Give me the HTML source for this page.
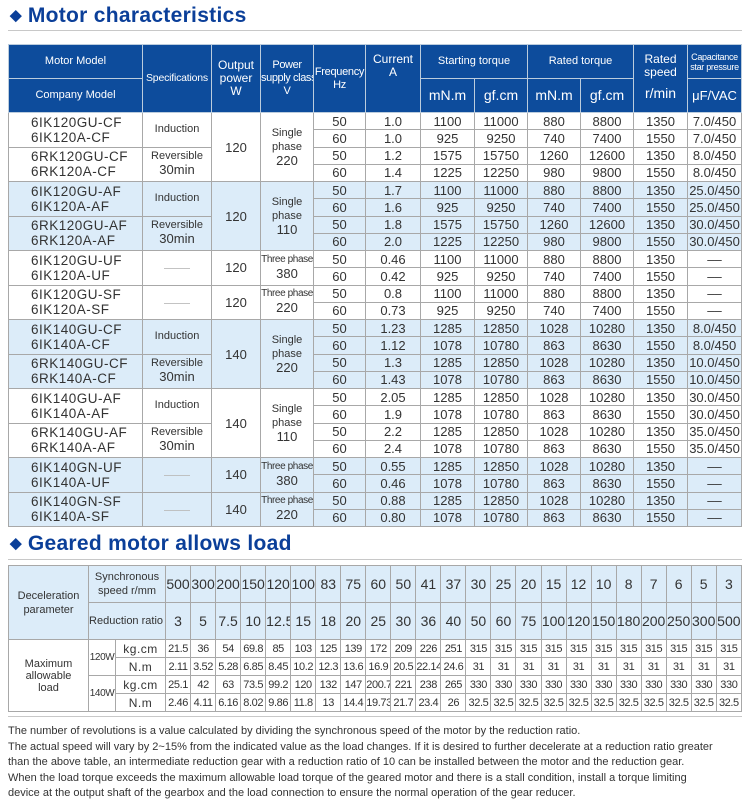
<!DOCTYPE html>
<html><head><meta charset="utf-8">
<style>
*{margin:0;padding:0;box-sizing:border-box}
body{width:750px;height:811px;background:#fff;font-family:"Liberation Sans",Arial,sans-serif;position:relative;overflow:hidden;color:#333}
.title{position:absolute;left:10px;font-weight:bold;font-size:21px;color:#0b3f99;letter-spacing:0.3px}
.title .d{font-size:15px;vertical-align:2px;margin-right:6px}
.rule{position:absolute;left:8px;width:734px;height:1px;background:#c8c8c8}
table{position:absolute;border-collapse:collapse;table-layout:fixed}
td{border:1px solid #a8a8a8;text-align:center;vertical-align:middle;padding:0;overflow:hidden;white-space:nowrap}
#t1{left:8px;top:44px;width:733px}
#t1 th{background:#0d4c9c;color:#fff;font-weight:normal;font-size:11px;border:1px solid #bcd;line-height:13px;white-space:nowrap;overflow:hidden}
#t1 thead tr{height:34px}
#t1 tbody tr{height:17.25px}
#t1 td{font-size:13px;color:#333;line-height:15px}
#t1 td.m{text-align:left;padding-left:22px;font-size:13.5px;letter-spacing:0.5px;line-height:15px}
#t1 td.s{font-size:11px;line-height:13px}
#t1 td.s2{font-size:11px;line-height:14px}
#t1 td.tp{font-size:10px;line-height:14px;letter-spacing:-0.4px}
.b td{background:#dcecf9}
#t2{left:8px;top:565px;width:734px}
#t2 td{font-size:14px}
#t2 .h td{background:#dcecf9;height:37px}
#t2 .r td{height:18px;font-size:11px;letter-spacing:-0.4px}
#t2 .h td.l{font-size:11px;line-height:14px}
.note{position:absolute;left:8px;top:724px;font-size:11px;line-height:15.6px;color:#333;width:740px}
</style></head><body>
<div class="title" style="top:4px"><span class="d">◆</span>Motor characteristics</div>
<div class="rule" style="top:30px"></div>
<table id="t1">
<colgroup><col style="width:134px"><col style="width:69px"><col style="width:49px"><col style="width:53px"><col style="width:52px"><col style="width:55px"><col style="width:54px"><col style="width:53px"><col style="width:53px"><col style="width:53px"><col style="width:54px"><col style="width:54px"></colgroup>
<thead>
<tr><th>Motor Model</th><th rowspan="2" style="font-size:10.5px;letter-spacing:-0.2px">Specifications</th><th rowspan="2" style="font-size:12px">Output<br>power<br>W</th><th rowspan="2" style="font-size:11px;letter-spacing:-0.4px">Power<br>supply class<br>V</th><th rowspan="2" style="font-size:11px;letter-spacing:-0.3px">Frequency<br>Hz</th><th rowspan="2" style="font-size:12px;vertical-align:top;padding-top:8px">Current<br>A</th><th colspan="2">Starting torque</th><th colspan="2">Rated torque</th><th rowspan="2" style="font-size:12px;vertical-align:top;padding-top:8px">Rated<br>speed<br><span style="font-size:14px;line-height:28px">r/min</span></th><th style="font-size:9px;line-height:10px;letter-spacing:-0.3px">Capacitance<br>star pressure</th></tr>
<tr><th>Company Model</th><th style="font-size:14px">mN.m</th><th style="font-size:14px">gf.cm</th><th style="font-size:14px">mN.m</th><th style="font-size:14px">gf.cm</th><th style="font-size:13px">μF/VAC</th></tr>
</thead>
<tbody>
<tr><td class="m" rowspan="2">6IK120GU-CF<br>6IK120A-CF</td><td class="s" rowspan="2">Induction</td><td rowspan="4">120</td><td class="s2" rowspan="4">Single<br>phase<br><span style="font-size:13px">220</span></td><td>50</td><td>1.0</td><td>1100</td><td>11000</td><td>880</td><td>8800</td><td>1350</td><td>7.0/450</td></tr>
<tr><td>60</td><td>1.0</td><td>925</td><td>9250</td><td>740</td><td>7400</td><td>1550</td><td>7.0/450</td></tr>
<tr><td class="m" rowspan="2">6RK120GU-CF<br>6RK120A-CF</td><td class="s" rowspan="2">Reversible<br><span style="font-size:13px">30min</span></td><td>50</td><td>1.2</td><td>1575</td><td>15750</td><td>1260</td><td>12600</td><td>1350</td><td>8.0/450</td></tr>
<tr><td>60</td><td>1.4</td><td>1225</td><td>12250</td><td>980</td><td>9800</td><td>1550</td><td>8.0/450</td></tr>
<tr class="b"><td class="m" rowspan="2">6IK120GU-AF<br>6IK120A-AF</td><td class="s" rowspan="2">Induction</td><td rowspan="4">120</td><td class="s2" rowspan="4">Single<br>phase<br><span style="font-size:13px">110</span></td><td>50</td><td>1.7</td><td>1100</td><td>11000</td><td>880</td><td>8800</td><td>1350</td><td>25.0/450</td></tr>
<tr class="b"><td>60</td><td>1.6</td><td>925</td><td>9250</td><td>740</td><td>7400</td><td>1550</td><td>25.0/450</td></tr>
<tr class="b"><td class="m" rowspan="2">6RK120GU-AF<br>6RK120A-AF</td><td class="s" rowspan="2">Reversible<br><span style="font-size:13px">30min</span></td><td>50</td><td>1.8</td><td>1575</td><td>15750</td><td>1260</td><td>12600</td><td>1350</td><td>30.0/450</td></tr>
<tr class="b"><td>60</td><td>2.0</td><td>1225</td><td>12250</td><td>980</td><td>9800</td><td>1550</td><td>30.0/450</td></tr>
<tr><td class="m" rowspan="2">6IK120GU-UF<br>6IK120A-UF</td><td rowspan="2" style="color:#bbb">——</td><td rowspan="2">120</td><td class="tp" rowspan="2">Three phase<br><span style="font-size:13px;letter-spacing:0">380</span></td><td>50</td><td>0.46</td><td>1100</td><td>11000</td><td>880</td><td>8800</td><td>1350</td><td>––</td></tr>
<tr><td>60</td><td>0.42</td><td>925</td><td>9250</td><td>740</td><td>7400</td><td>1550</td><td>––</td></tr>
<tr><td class="m" rowspan="2">6IK120GU-SF<br>6IK120A-SF</td><td rowspan="2" style="color:#bbb">——</td><td rowspan="2">120</td><td class="tp" rowspan="2">Three phase<br><span style="font-size:13px;letter-spacing:0">220</span></td><td>50</td><td>0.8</td><td>1100</td><td>11000</td><td>880</td><td>8800</td><td>1350</td><td>––</td></tr>
<tr><td>60</td><td>0.73</td><td>925</td><td>9250</td><td>740</td><td>7400</td><td>1550</td><td>––</td></tr>
<tr class="b"><td class="m" rowspan="2">6IK140GU-CF<br>6IK140A-CF</td><td class="s" rowspan="2">Induction</td><td rowspan="4">140</td><td class="s2" rowspan="4">Single<br>phase<br><span style="font-size:13px">220</span></td><td>50</td><td>1.23</td><td>1285</td><td>12850</td><td>1028</td><td>10280</td><td>1350</td><td>8.0/450</td></tr>
<tr class="b"><td>60</td><td>1.12</td><td>1078</td><td>10780</td><td>863</td><td>8630</td><td>1550</td><td>8.0/450</td></tr>
<tr class="b"><td class="m" rowspan="2">6RK140GU-CF<br>6RK140A-CF</td><td class="s" rowspan="2">Reversible<br><span style="font-size:13px">30min</span></td><td>50</td><td>1.3</td><td>1285</td><td>12850</td><td>1028</td><td>10280</td><td>1350</td><td>10.0/450</td></tr>
<tr class="b"><td>60</td><td>1.43</td><td>1078</td><td>10780</td><td>863</td><td>8630</td><td>1550</td><td>10.0/450</td></tr>
<tr><td class="m" rowspan="2">6IK140GU-AF<br>6IK140A-AF</td><td class="s" rowspan="2">Induction</td><td rowspan="4">140</td><td class="s2" rowspan="4">Single<br>phase<br><span style="font-size:13px">110</span></td><td>50</td><td>2.05</td><td>1285</td><td>12850</td><td>1028</td><td>10280</td><td>1350</td><td>30.0/450</td></tr>
<tr><td>60</td><td>1.9</td><td>1078</td><td>10780</td><td>863</td><td>8630</td><td>1550</td><td>30.0/450</td></tr>
<tr><td class="m" rowspan="2">6RK140GU-AF<br>6RK140A-AF</td><td class="s" rowspan="2">Reversible<br><span style="font-size:13px">30min</span></td><td>50</td><td>2.2</td><td>1285</td><td>12850</td><td>1028</td><td>10280</td><td>1350</td><td>35.0/450</td></tr>
<tr><td>60</td><td>2.4</td><td>1078</td><td>10780</td><td>863</td><td>8630</td><td>1550</td><td>35.0/450</td></tr>
<tr class="b"><td class="m" rowspan="2">6IK140GN-UF<br>6IK140A-UF</td><td rowspan="2" style="color:#bbb">——</td><td rowspan="2">140</td><td class="tp" rowspan="2">Three phase<br><span style="font-size:13px;letter-spacing:0">380</span></td><td>50</td><td>0.55</td><td>1285</td><td>12850</td><td>1028</td><td>10280</td><td>1350</td><td>––</td></tr>
<tr class="b"><td>60</td><td>0.46</td><td>1078</td><td>10780</td><td>863</td><td>8630</td><td>1550</td><td>––</td></tr>
<tr class="b"><td class="m" rowspan="2">6IK140GN-SF<br>6IK140A-SF</td><td rowspan="2" style="color:#bbb">——</td><td rowspan="2">140</td><td class="tp" rowspan="2">Three phase<br><span style="font-size:13px;letter-spacing:0">220</span></td><td>50</td><td>0.88</td><td>1285</td><td>12850</td><td>1028</td><td>10280</td><td>1350</td><td>––</td></tr>
<tr class="b"><td>60</td><td>0.80</td><td>1078</td><td>10780</td><td>863</td><td>8630</td><td>1550</td><td>––</td></tr>
</tbody>
</table>

<div class="title" style="top:532px"><span class="d">◆</span>Geared motor allows load</div>
<div class="rule" style="top:559px"></div>
<table id="t2">
<colgroup><col style="width:80px"><col style="width:27px"><col style="width:50px"><col span="23" style="width:25.04px"></colgroup>
<tr class="h"><td class="l" rowspan="2">Deceleration<br>parameter</td><td class="l" colspan="2">Synchronous<br>speed r/mm</td><td>500</td><td>300</td><td>200</td><td>150</td><td>120</td><td>100</td><td>83</td><td>75</td><td>60</td><td>50</td><td>41</td><td>37</td><td>30</td><td>25</td><td>20</td><td>15</td><td>12</td><td>10</td><td>8</td><td>7</td><td>6</td><td>5</td><td>3</td></tr>
<tr class="h"><td colspan="2" style="font-size:11px">Reduction ratio i</td><td>3</td><td>5</td><td>7.5</td><td>10</td><td>12.5</td><td>15</td><td>18</td><td>20</td><td>25</td><td>30</td><td>36</td><td>40</td><td>50</td><td>60</td><td>75</td><td>100</td><td>120</td><td>150</td><td>180</td><td>200</td><td>250</td><td>300</td><td>500</td></tr>
<tr class="r"><td rowspan="4" style="font-size:11px;letter-spacing:0;line-height:12px">Maximum<br>allowable<br>load</td><td rowspan="2" style="font-size:10px">120W</td><td style="font-size:12px;letter-spacing:0.5px">kg.cm</td><td>21.5</td><td>36</td><td>54</td><td>69.8</td><td>85</td><td>103</td><td>125</td><td>139</td><td>172</td><td>209</td><td>226</td><td>251</td><td>315</td><td>315</td><td>315</td><td>315</td><td>315</td><td>315</td><td>315</td><td>315</td><td>315</td><td>315</td><td>315</td></tr>
<tr class="r"><td style="font-size:12px;letter-spacing:0.5px">N.m</td><td>2.11</td><td>3.52</td><td>5.28</td><td>6.85</td><td>8.45</td><td>10.2</td><td>12.3</td><td>13.6</td><td>16.9</td><td>20.5</td><td>22.14</td><td>24.6</td><td>31</td><td>31</td><td>31</td><td>31</td><td>31</td><td>31</td><td>31</td><td>31</td><td>31</td><td>31</td><td>31</td></tr>
<tr class="r"><td rowspan="2" style="font-size:10px">140W</td><td style="font-size:12px;letter-spacing:0.5px">kg.cm</td><td>25.1</td><td>42</td><td>63</td><td>73.5</td><td>99.2</td><td>120</td><td>132</td><td>147</td><td>200.7</td><td>221</td><td>238</td><td>265</td><td>330</td><td>330</td><td>330</td><td>330</td><td>330</td><td>330</td><td>330</td><td>330</td><td>330</td><td>330</td><td>330</td></tr>
<tr class="r"><td style="font-size:12px;letter-spacing:0.5px">N.m</td><td>2.46</td><td>4.11</td><td>6.16</td><td>8.02</td><td>9.86</td><td>11.8</td><td>13</td><td>14.4</td><td>19.73</td><td>21.7</td><td>23.4</td><td>26</td><td>32.5</td><td>32.5</td><td>32.5</td><td>32.5</td><td>32.5</td><td>32.5</td><td>32.5</td><td>32.5</td><td>32.5</td><td>32.5</td><td>32.5</td></tr>
</table>
<div class="rule" style="top:716px"></div>
<div class="note">The number of revolutions is a value calculated by dividing the synchronous speed of the motor by the reduction ratio.<br>The actual speed will vary by 2~15% from the indicated value as the load changes. If it is desired to further decelerate at a reduction ratio greater<br>than the above table, an intermediate reduction gear with a reduction ratio of 10 can be installed between the motor and the reduction gear.<br>When the load torque exceeds the maximum allowable load torque of the geared motor and there is a stall condition, install a torque limiting<br>device at the output shaft of the gearbox and the load connection to ensure the normal operation of the gear reducer.</div>
</body></html>
